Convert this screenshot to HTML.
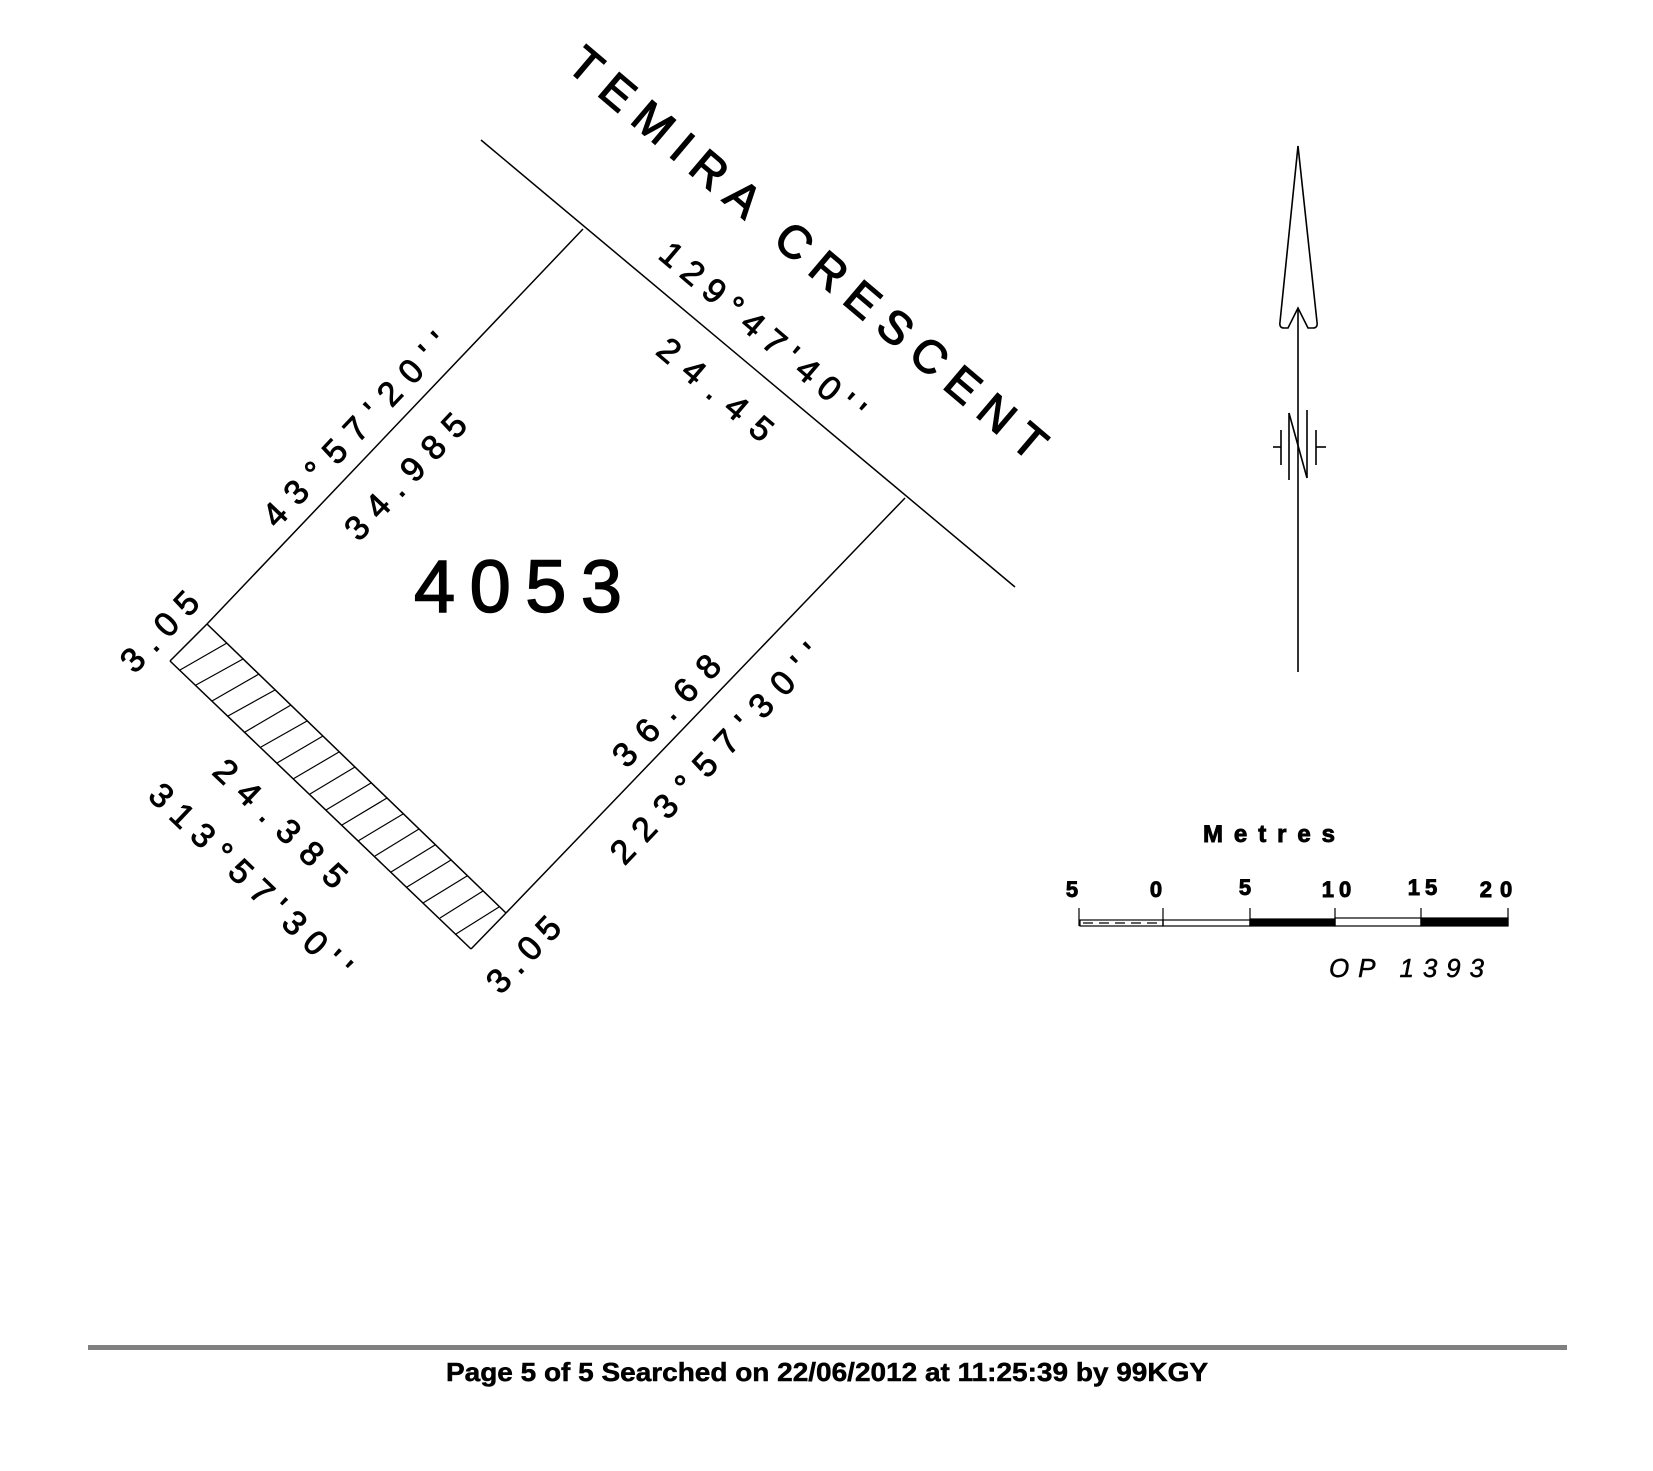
<!DOCTYPE html>
<html><head><meta charset="utf-8"><style>
html,body{margin:0;padding:0;background:#fff;}
svg{display:block;}
text{font-family:"Liberation Sans",sans-serif;fill:#000;stroke:#000;stroke-width:0.9;}
</style></head><body>
<svg width="1653" height="1471" viewBox="0 0 1653 1471" xmlns="http://www.w3.org/2000/svg">
<g stroke="#000" stroke-width="1.5" fill="none">
<line x1="481" y1="140" x2="1015" y2="587"/>
<line x1="207" y1="624" x2="583" y2="229"/>
<line x1="905" y1="498" x2="506" y2="913"/>
<line x1="170" y1="661" x2="471" y2="949"/>
<line x1="207" y1="624" x2="506" y2="913"/>
<line x1="170" y1="661" x2="207" y2="624"/>
<line x1="471" y1="949" x2="506" y2="913"/>
</g>
<g stroke="#000" stroke-width="1.6" fill="none">
<path d="M1298,146 L1280,322 Q1279,328 1284,328 L1288,328 Q1292,320 1298,308 Q1304,320 1308,328 L1313,328 Q1318,328 1317,322 Z"/>
<line x1="1298" y1="308" x2="1298" y2="672"/>
<line x1="1289" y1="413" x2="1289" y2="480"/>
<line x1="1307" y1="410" x2="1307" y2="478"/>
<line x1="1289" y1="413" x2="1307" y2="478"/>
<line x1="1281" y1="430" x2="1281" y2="465"/>
<line x1="1316" y1="430" x2="1316" y2="465"/>
<line x1="1273" y1="447" x2="1281" y2="447"/>
<line x1="1316" y1="447" x2="1326" y2="447"/>
</g>
<g stroke="#000" stroke-width="1.2" fill="none">
<line x1="1079" y1="908" x2="1079" y2="926"/>
<line x1="1163" y1="908" x2="1163" y2="926"/>
<line x1="1250" y1="908" x2="1250" y2="926"/>
<line x1="1335" y1="908" x2="1335" y2="926"/>
<line x1="1421" y1="908" x2="1421" y2="926"/>
<line x1="1508" y1="908" x2="1508" y2="926"/>
<rect x="1080" y="920" width="83" height="6"/>
<rect x="1163" y="920" width="87" height="6"/>
<rect x="1250" y="919" width="85" height="7" fill="#000"/>
<rect x="1335" y="918" width="86" height="8"/>
<rect x="1421" y="918" width="87" height="8" fill="#000"/>
<line x1="1083" y1="923" x2="1160" y2="923" stroke-dasharray="10,6"/>
</g>
<g font-size="22" font-weight="bold">
<text x="1072" y="897" text-anchor="middle">5</text>
<text x="1156" y="897" text-anchor="middle">0</text>
<text x="1245" y="895" text-anchor="middle">5</text>
<text x="1339" y="897" text-anchor="middle" letter-spacing="5">10</text>
<text x="1425" y="895" text-anchor="middle" letter-spacing="5">15</text>
<text x="1500" y="897" text-anchor="middle" letter-spacing="8">20</text>
<text x="1203" y="842" font-size="24" textLength="132" lengthAdjust="spacing">Metres</text>
</g>
<text x="1329" y="977" font-size="26" font-style="italic" textLength="155" lengthAdjust="spacing" style="stroke-width:0.5">OP 1393</text>
<text x="414" y="612" font-size="74" textLength="208" lengthAdjust="spacing" style="stroke-width:1.5">4053</text>
<g font-size="34" text-anchor="middle" dominant-baseline="central">
<text transform="translate(808,253) rotate(40.3)" font-size="46" textLength="610" lengthAdjust="spacing" style="stroke-width:1.4">TEMIRA CRESCENT</text>
<text transform="translate(762,332) rotate(40.3)" textLength="257" lengthAdjust="spacing">129°47'40''</text>
<text transform="translate(715,390) rotate(40.3)" textLength="140" lengthAdjust="spacing">24.45</text>
<text transform="translate(356,430) rotate(-46.5)" textLength="253" lengthAdjust="spacing">43°57'20''</text>
<text transform="translate(406,477) rotate(-46.5)" textLength="160" lengthAdjust="spacing">34.985</text>
<text transform="translate(160,632) rotate(-46.5)" textLength="97" lengthAdjust="spacing">3.05</text>
<text transform="translate(667,711) rotate(-46.5)" textLength="140" lengthAdjust="spacing">36.68</text>
<text transform="translate(716,754) rotate(-46.5)" textLength="289" lengthAdjust="spacing">223°57'30''</text>
<text transform="translate(524,955) rotate(-46.5)" textLength="91" lengthAdjust="spacing">3.05</text>
<text transform="translate(280,824) rotate(43.7)" textLength="170" lengthAdjust="spacing">24.385</text>
<text transform="translate(250,881) rotate(43.7)" textLength="265" lengthAdjust="spacing">313°57'30''</text>
</g>
<rect x="88" y="1345" width="1479" height="5" fill="#808080"/>
<text x="827" y="1381" font-size="26" font-weight="bold" text-anchor="middle" textLength="762" lengthAdjust="spacingAndGlyphs" style="stroke-width:0.5">Page 5 of 5  Searched on 22/06/2012 at 11:25:39 by 99KGY</text>
<g stroke="#000" stroke-width="1.2">
<line x1="180" y1="670" x2="227" y2="643"/>
<line x1="196" y1="685" x2="243" y2="659"/>
<line x1="212" y1="701" x2="259" y2="674"/>
<line x1="228" y1="716" x2="275" y2="690"/>
<line x1="245" y1="732" x2="291" y2="705"/>
<line x1="261" y1="747" x2="307" y2="721"/>
<line x1="277" y1="763" x2="323" y2="736"/>
<line x1="293" y1="779" x2="339" y2="752"/>
<line x1="310" y1="794" x2="355" y2="767"/>
<line x1="326" y1="810" x2="371" y2="783"/>
<line x1="342" y1="825" x2="387" y2="798"/>
<line x1="358" y1="841" x2="403" y2="814"/>
<line x1="375" y1="856" x2="419" y2="829"/>
<line x1="391" y1="872" x2="435" y2="845"/>
<line x1="407" y1="887" x2="451" y2="860"/>
<line x1="423" y1="903" x2="467" y2="876"/>
<line x1="440" y1="918" x2="483" y2="891"/>
<line x1="456" y1="934" x2="499" y2="907"/>
</g>
</svg>
</body></html>
